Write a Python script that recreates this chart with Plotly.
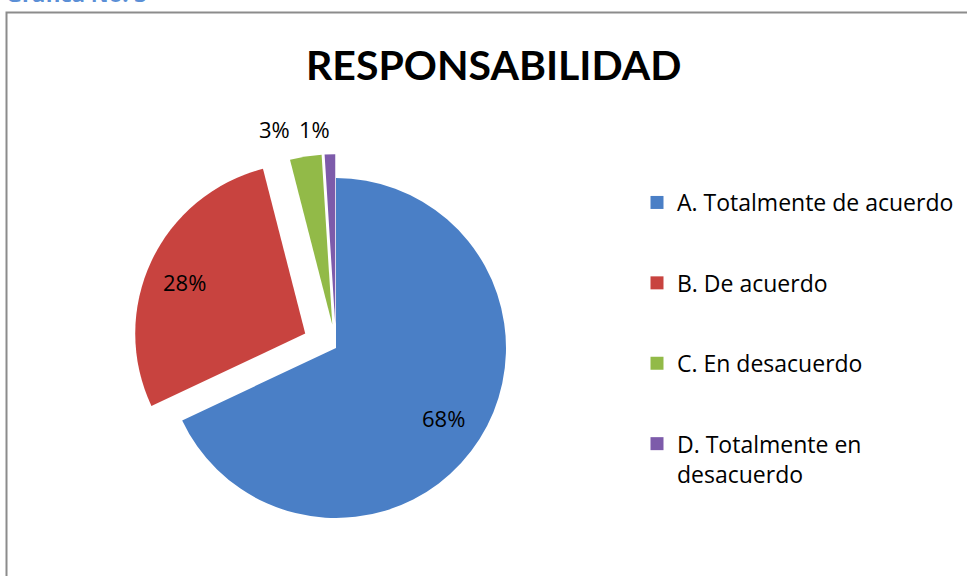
import plotly.graph_objects as go

# datos de la grafica
categorias = ["A. Totalmente de acuerdo", "B. De acuerdo", "C. En desacuerdo", "D. Totalmente en<br>desacuerdo"]
porcentajes = [68, 28, 3, 1]
colores = ["#4A7FC6", "#C8433F", "#92BA48", "#7D5BAA"]
separacion = [0.0, 0.2, 0.14, 0.14]

# posicion (px) de cada etiqueta de porcentaje
pos_etiquetas = [(443, 418), (184, 282), (274, 129), (314, 129)]

W, H = 967, 576
FONT = "Open Sans"


def px(x, y):
    return x / W, (H - y) / H


fig = go.Figure()
fig.add_trace(go.Pie(
    labels=categorias,
    values=porcentajes,
    sort=False,
    direction="clockwise",
    rotation=0,
    pull=separacion,
    marker=dict(colors=colores, line=dict(color="rgba(0,0,0,0)", width=0)),
    textinfo="none",
    domain=dict(x=[(336 - 204) / W, (336 + 204) / W], y=[(228 - 204) / H, (228 + 204) / H]),
    hoverinfo="label+percent",
    showlegend=False,
))

# leyenda con trazas vacias para poder separar los items
for cat, col in zip(categorias, colores):
    fig.add_trace(go.Scatter(x=[None], y=[None], mode="markers", name=cat, legendgroup=cat,
                             marker=dict(symbol="square", size=13, color=col), hoverinfo="skip"))

for val, (x, y) in zip(porcentajes, pos_etiquetas):
    ax, ay = px(x, y)
    fig.add_annotation(text=f"{val}%", xref="paper", yref="paper", x=ax, y=ay,
                       xanchor="center", yanchor="middle", showarrow=False,
                       font=dict(family=FONT, size=22, color="black"))

# marco del grafico
fig.add_shape(type="rect", xref="paper", yref="paper",
              x0=6.5 / W, x1=1.05, y0=-0.05, y1=(H - 12.5) / H,
              line=dict(color="#8C8C8C", width=2), fillcolor="rgba(0,0,0,0)")

tx, ty = px(493, 64)
fig.add_annotation(text="<b>RESPONSABILIDAD</b>", xref="paper", yref="paper",
                   x=tx, y=ty, xanchor="center", yanchor="middle",
                   showarrow=False, font=dict(family="Lato", size=41, color="black"))

# titulo de la pagina, cortado arriba
gx, gy = px(4, -7)
fig.add_annotation(text="<b>Gráfica No. 3</b>", xref="paper", yref="paper",
                   x=gx, y=gy, xanchor="left", yanchor="middle",
                   showarrow=False, font=dict(family=FONT, size=22, color="#5B8FD6"))

fig.update_layout(
    width=W, height=H,
    margin=dict(l=0, r=0, t=0, b=0),
    paper_bgcolor="white",
    plot_bgcolor="white",
    showlegend=True,
    xaxis=dict(visible=False),
    yaxis=dict(visible=False),
    legend=dict(x=637 / W, y=(H - 181) / H, xanchor="left", yanchor="top",
                valign="top", font=dict(family=FONT, size=23, color="black"),
                bgcolor="rgba(0,0,0,0)", itemwidth=30, tracegroupgap=47.5,
                traceorder="grouped"),
)

fig.write_html("out.html", config={"displayModeBar": False},
               post_script="document.body.style.margin='0';")
